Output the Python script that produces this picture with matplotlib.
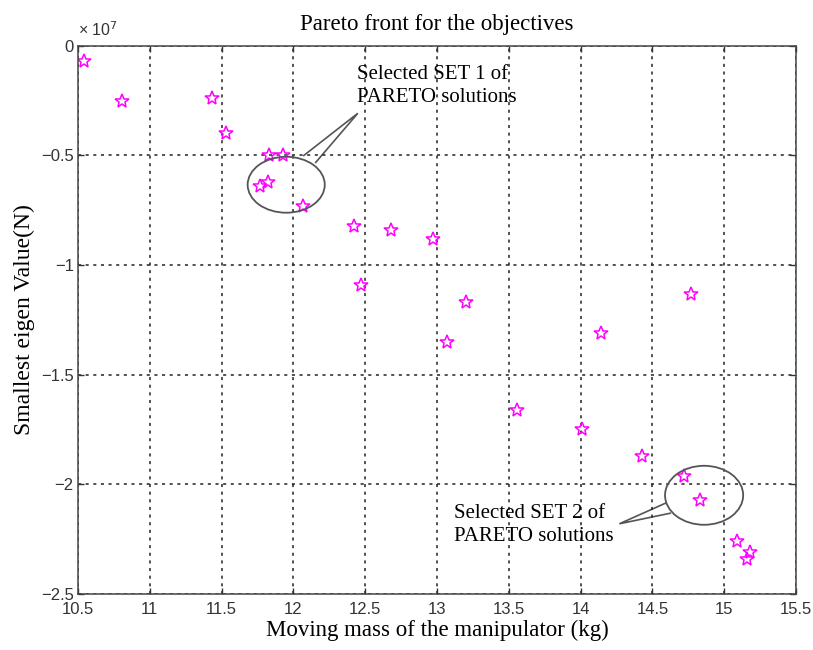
import matplotlib.pyplot as plt
import numpy as np
from matplotlib.patches import Ellipse, Polygon

# Pareto points (mass in kg, smallest eigen value in 1e7 N)
mass = [10.54, 10.81, 11.43, 11.53, 11.83, 11.93, 11.77, 11.82, 12.07,
        12.42, 12.68, 12.97, 12.47, 13.20, 13.07, 14.77, 14.14, 13.56,
        14.01, 14.43, 14.72, 14.83, 15.09, 15.18, 15.16]
eig = [-0.07, -0.25, -0.24, -0.40, -0.50, -0.50, -0.64, -0.62, -0.73,
       -0.82, -0.84, -0.88, -1.09, -1.17, -1.35, -1.13, -1.31, -1.66,
       -1.75, -1.87, -1.96, -2.07, -2.26, -2.31, -2.34]

xticks = [10.5, 11, 11.5, 12, 12.5, 13, 13.5, 14, 14.5, 15, 15.5]
yticks = [0, -0.5, -1, -1.5, -2, -2.5]
xticklabels = ['10.5', '11', '11.5', '12', '12.5', '13', '13.5', '14', '14.5', '15', '15.5']
yticklabels = ['0', '\u22120.5', '\u22121', '\u22121.5', '\u22122', '\u22122.5']

serif = 'Liberation Serif'
sans = 'Liberation Sans'

fig = plt.figure(figsize=(8.13, 6.5), dpi=100)
ax = fig.add_axes([0.0959, 0.0862, 0.8832, 0.8435])

ax.plot(mass, eig, linestyle='none', marker='*', markersize=10,
        markerfacecolor='none', markeredgecolor='#ff00ff', markeredgewidth=1.1)

ax.set_xlim(10.5, 15.5)
ax.set_ylim(-2.5, 0)
ax.set_xticks(xticks)
ax.set_xticklabels(xticklabels, family=sans, fontsize=12, color='#333333')
ax.set_yticks(yticks)
ax.set_yticklabels(yticklabels, family=sans, fontsize=12, color='#333333')
ax.tick_params(direction='in', length=4, top=True, right=True, width=1, colors='#333333')
ax.tick_params(axis='x', pad=6)
ax.tick_params(axis='y', pad=3)
for sp in ax.spines.values():
    sp.set_color('#444444')
    sp.set_linewidth(1.1)
ax.grid(True, color='#222222', linestyle=(0, (2, 3)), linewidth=1.1)

ax.set_title('Pareto front for the objectives', family=serif, fontsize=16.5, pad=11)
ax.set_xlabel('Moving mass of the manipulator (kg)', family=serif, fontsize=16.5, labelpad=2)
ax.set_ylabel('Smallest eigen Value(N)', family=serif, fontsize=17, labelpad=4)
ax.text(0.0, 1.012, '\u00d7 10$^{7}$', transform=ax.transAxes, family=sans,
        fontsize=11.5, color='#333333', ha='left', va='bottom')

# callout 1
ax.add_patch(Ellipse((11.95, -0.634), 0.537, 0.255, fill=False,
                     edgecolor='#555555', linewidth=1.3, zorder=3))
ax.add_patch(Polygon([[12.068, -0.503], [12.449, -0.308], [12.152, -0.535]],
                     closed=False, fill=False, edgecolor='#555555', linewidth=1.2))
ax.text(12.44, -0.182, 'Selected SET 1 of\nPARETO solutions', family=serif,
        fontsize=15, ha='left', va='center', linespacing=1.3)

# callout 2
ax.add_patch(Ellipse((14.86, -2.05), 0.544, 0.269, fill=False,
                     edgecolor='#555555', linewidth=1.3, zorder=3))
ax.add_patch(Polygon([[14.598, -2.084], [14.27, -2.18], [14.630, -2.131]],
                     closed=False, fill=False, edgecolor='#555555', linewidth=1.2))
ax.text(13.12, -2.187, 'Selected SET 2 of\nPARETO solutions', family=serif,
        fontsize=15, ha='left', va='center', linespacing=1.3)

fig.savefig('out.png', dpi=100)
